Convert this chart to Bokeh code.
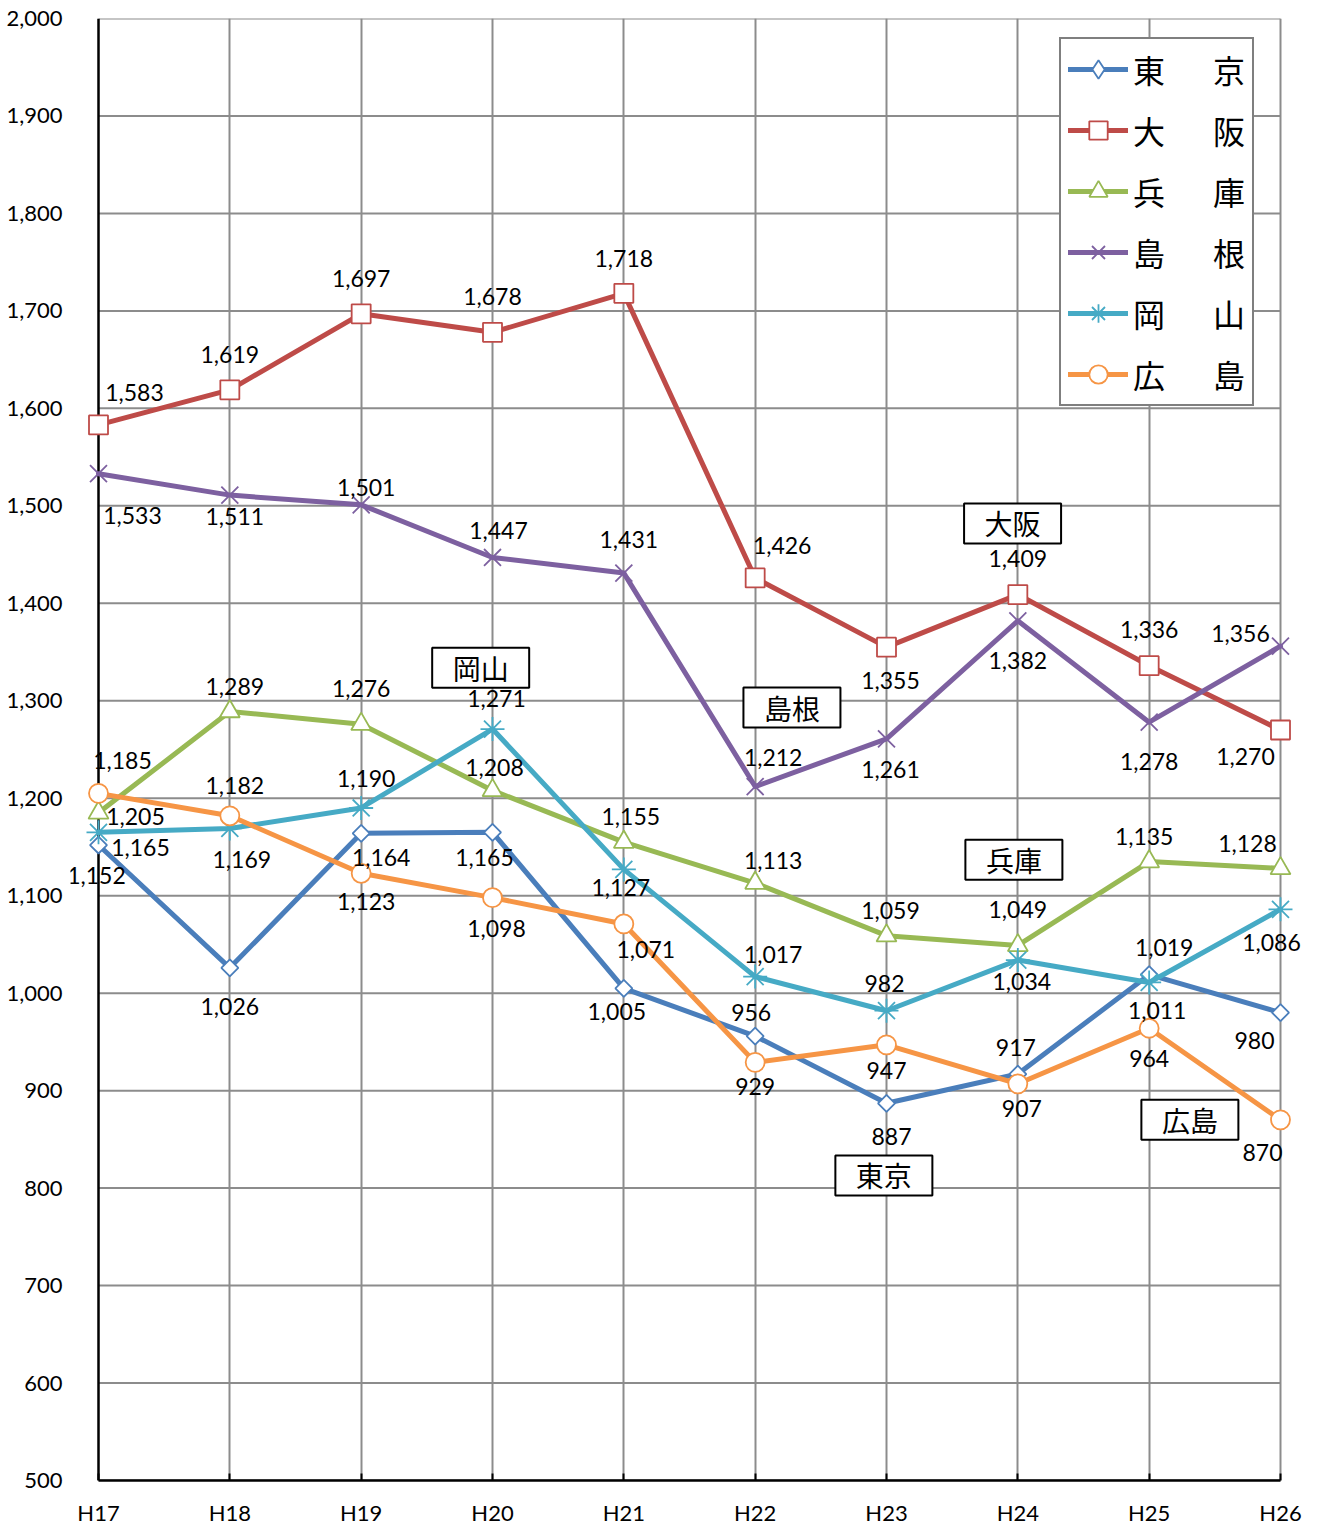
import math
from bokeh.plotting import figure
from bokeh.models import (Range1d, FixedTicker, Legend, LegendItem, ColumnDataSource,
                          NumeralTickFormatter, LabelSet, Span)
from bokeh.core.properties import value
from bokeh.embed import file_html
from bokeh.resources import INLINE

# ---------------- data ----------------
years = ["H17", "H18", "H19", "H20", "H21", "H22", "H23", "H24", "H25", "H26"]
names = ["東京", "大阪", "兵庫", "島根", "岡山", "広島"]
tokyo = [1152, 1026, 1164, 1165, 1005, 956, 887, 917, 1019, 980]
osaka = [1583, 1619, 1697, 1678, 1718, 1426, 1355, 1409, 1336, 1270]
hyogo = [1185, 1289, 1276, 1208, 1155, 1113, 1059, 1049, 1135, 1128]
shimane = [1533, 1511, 1501, 1447, 1431, 1212, 1261, 1382, 1278, 1356]
okayama = [1165, 1169, 1190, 1271, 1127, 1017, 982, 1034, 1011, 1086]
hiroshima = [1205, 1182, 1123, 1098, 1071, 929, 947, 907, 964, 870]
y_ticks = list(range(500, 2001, 100))

# ---------------- styles ----------------
colors = ["#4A7EBB", "#BE4B48", "#98B954", "#7D60A0", "#46AAC5", "#F69545"]
markers = ["square", "square", "triangle", "x", "asterisk", "circle"]
legend_markers = ["diamond", "square", "triangle", "x", "asterisk", "circle"]
angles = [math.pi / 4, 0, 0, 0, 0, 0]
msizes = [12, 19, 20, 24, 24, 19]

# label offsets (screen px, +down)
label_dx = [
    [-2, 0, 20, -8, -7, -4, 5, -2, 15, -26],
    [36, 0, 0, 0, 0, 27, 4, 0, 0, -35],
    [24, 5, 0, 2, 7, 18, 4, 0, -5, -33],
    [34, 5, 5, 6, 5, 18, 4, 0, 0, -40],
    [42, 12, 5, 4, -3, 18, -2, 4, 8, -9],
    [37, 5, 5, 4, 22, 0, 0, 4, 0, -18],
]
label_dy = [
    [30, 39, 24, 25, 23, -24, 33, -27, -27, 28],
    [-32, -35, -35, -36, -35, -32, 33, -36, -36, 26],
    [-52, -25, -36, -23, -26, -23, -25, -36, -25, -25],
    [42, 21, -17, -27, -34, -29, 31, 40, 39, -13],
    [15, 31, -29, -31, 18, -22, -27, 21, 28, 33],
    [23, -30, 28, 31, 26, 24, 26, 25, 30, 33],
]

# callout boxes (data coordinates)
callout_names = ["大阪", "岡山", "島根", "兵庫", "東京", "広島"]
callout_x = [6.96, 2.91, 5.28, 6.97, 5.98, 8.31]
callout_y = [1482, 1334, 1293, 1137, 813, 870]

NUM_FONT = "Lato"
JP_FONT = "Noto Sans CJK JP"

# layout: frame a little wider than the category span so edge marks are not clipped
PX_PER_CAT = 131.33
FRAME_LEFT = 70
x_start = -(98 - FRAME_LEFT) / PX_PER_CAT
x_end = (len(years) - 1) + 25 / PX_PER_CAT

p = figure(width=1317, height=1530, output_backend="svg", toolbar_location=None,
           x_range=Range1d(x_start, x_end), y_range=Range1d(500, 2000),
           min_border_left=FRAME_LEFT, min_border_right=12, min_border_top=18,
           min_border_bottom=50)
p.outline_line_color = None
p.background_fill_color = "white"

cats = list(range(len(years)))

# x axis
xa = p.xaxis[0]
xa.ticker = FixedTicker(ticks=cats)
xa.bounds = (0, len(years) - 1)
xa.major_label_overrides = {i: y for i, y in enumerate(years)}
xa.axis_line_color = "black"
xa.axis_line_width = 2.5
xa.major_tick_in = 7
xa.major_tick_out = 0
xa.major_tick_line_color = "black"
xa.major_tick_line_width = 2
xa.minor_tick_line_color = None
xa.major_label_text_font = NUM_FONT
xa.major_label_text_font_size = "22px"
xa.major_label_text_color = "black"
xa.major_label_standoff = 18

# y axis (labels only; its line is drawn at the first category)
ya = p.yaxis[0]
ya.ticker = FixedTicker(ticks=y_ticks)
ya.formatter = NumeralTickFormatter(format="0,0")
ya.axis_line_color = None
ya.major_tick_line_color = None
ya.minor_tick_line_color = None
ya.major_label_text_font = NUM_FONT
ya.major_label_text_font_size = "22px"
ya.major_label_text_color = "black"
ya.major_label_standoff = 2

p.xgrid.ticker = FixedTicker(ticks=cats[1:])
p.xgrid.grid_line_color = "#8c8c8c"
p.xgrid.grid_line_width = 2
p.ygrid.grid_line_color = None
# horizontal gridlines limited to the category span
p.segment(x0=0, x1=len(years) - 1, y0=y_ticks, y1=y_ticks, line_color="#8c8c8c",
          line_width=2, level="underlay")
p.add_layout(Span(location=0, dimension="height", line_color="black", line_width=2.5,
                  level="underlay"))

all_series = [tokyo, osaka, hyogo, shimane, okayama, hiroshima]
legend_items = []
for k, vals in enumerate(all_series):
    src = ColumnDataSource(dict(x=cats, y=vals))
    ln = p.line("x", "y", source=src, line_color=colors[k], line_width=5,
                line_join="round", line_cap="round")
    sc = p.scatter("x", "y", source=src, marker=markers[k], size=msizes[k], angle=angles[k],
                   fill_color="white", line_color=colors[k], line_width=1.8)
    rends = [ln, sc]
    if legend_markers[k] != markers[k]:
        # legend swatch glyph (zero size in the plot itself)
        lg = p.scatter("x", "y", source=src, marker=legend_markers[k], size=0,
                       fill_color="white", line_color=colors[k], line_width=1.8)
        rends = [ln, lg]
    nm = names[k]
    legend_items.append(LegendItem(label=nm[0] + "\u3000\u2002" + nm[1], renderers=rends))

# data labels
for k, vals in enumerate(all_series):
    src = ColumnDataSource(dict(x=cats, y=vals, t=[f"{v:,}" for v in vals],
                                dx=label_dx[k], dy=[-d for d in label_dy[k]]))
    p.add_layout(LabelSet(x="x", y="y", text="t", source=src, x_offset="dx", y_offset="dy",
                          text_align="center", text_baseline="middle",
                          text_font=value(NUM_FONT), text_font_size="23px",
                          text_color="black"))

# callouts
csrc = ColumnDataSource(dict(x=callout_x, y=callout_y, t=callout_names))
p.rect("x", "y", width=97, height=40, width_units="screen", height_units="screen",
       source=csrc, fill_color="white", line_color="black", line_width=2)
p.text("x", "y", text="t", source=csrc, text_align="center", text_baseline="middle",
       text_font=value(JP_FONT), text_font_size="28px", text_color="black")

legend = Legend(items=legend_items, location=(1059 - FRAME_LEFT, 1074), margin=0,
                label_text_font=JP_FONT, label_text_font_size="32px",
                label_text_color="black",
                glyph_width=60, glyph_height=46, label_height=46, spacing=15,
                padding=7, label_standoff=5,
                border_line_color="black", border_line_width=2,
                background_fill_color="white", background_fill_alpha=1.0)
p.add_layout(legend)

open("out.html", "w").write(file_html(p, INLINE))
